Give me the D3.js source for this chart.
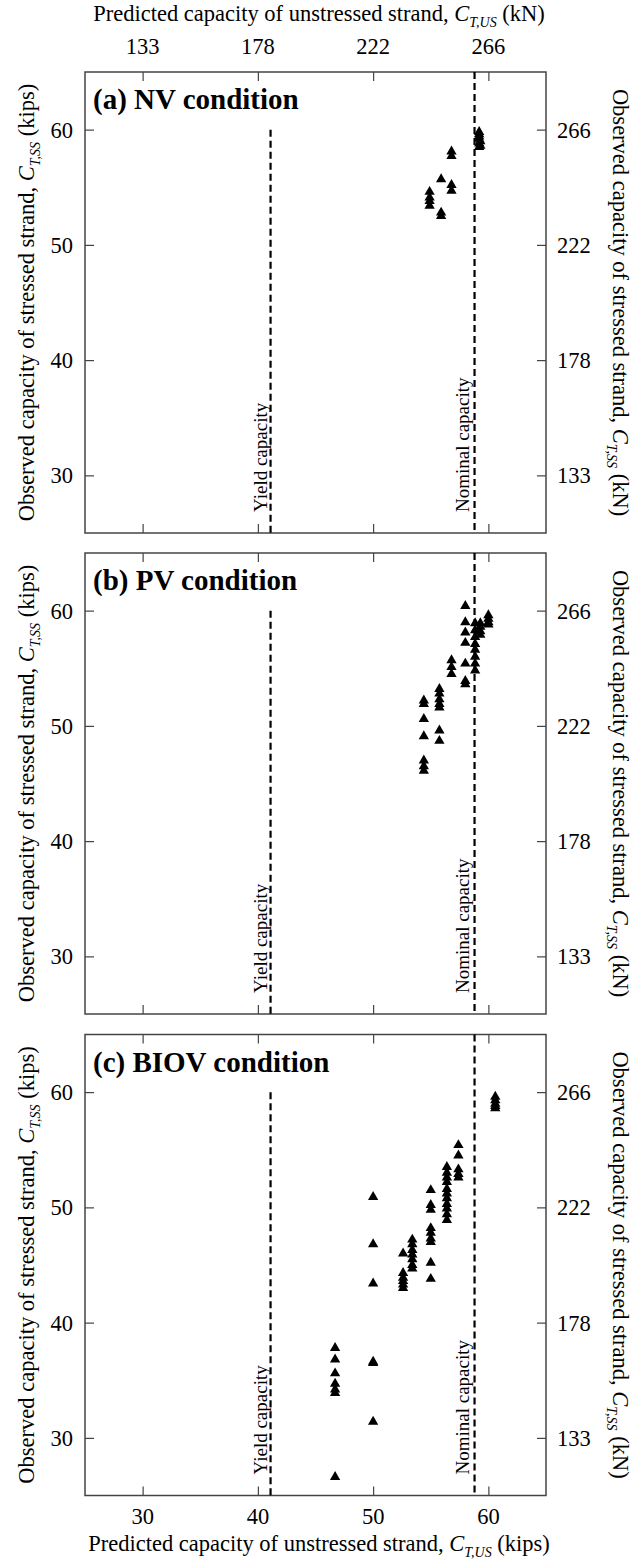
<!DOCTYPE html>
<html>
<head>
<meta charset="utf-8">
<script src="https://cdn.jsdelivr.net/npm/d3@7"></script>
<style>
  body { margin: 0; background: #fff; }
  text { font-family: "Liberation Serif", "Times New Roman", serif; fill: #000; }
</style>
</head>
<body>
<div id="chart"></div>
<script>
// tick values (kips) and the kN labels shown at the same places
const kipTicks = [30, 40, 50, 60];
const kNLabels = ["133", "178", "222", "266"];
const yieldCap = 41.1;
const nominalCap = 58.8;
const panelNames = ["(a) NV condition", "(b) PV condition", "(c) BIOV condition"];

// (a) NV condition: predicted (x) and observed (y), kips
const nvX = [54.9, 54.9, 54.9, 54.9, 55.9, 55.9, 55.9, 56.8, 56.8, 56.8, 56.8,
             59.2, 59.2, 59.2, 59.2, 59.3, 59.2, 59.3, 59.2];
const nvY = [54.6, 54.1, 53.8, 53.4, 55.7, 52.8, 52.5, 58.1, 57.7, 55.2, 54.7,
             59.8, 59.6, 59.4, 59.2, 59.0, 58.8, 58.6, 58.5];

// (b) PV condition
const pvX = [54.4, 54.4, 54.4, 54.4, 54.4, 54.4, 54.4,
             55.75, 55.75, 55.75, 55.75, 55.75, 55.75, 55.75,
             56.8, 56.8, 56.8,
             58.0, 58.0, 58.0, 58.0, 58.0, 58.0, 58.0,
             58.85, 58.85, 58.85, 58.85, 58.85, 58.85, 58.85, 58.85,
             59.3, 59.3, 59.3, 59.3,
             60.0, 60.0, 60.0, 60.0];
const pvY = [52.2, 51.9, 50.6, 49.1, 47.0, 46.5, 46.1,
             53.2, 52.8, 52.3, 51.9, 51.6, 49.6, 48.7,
             55.7, 55.1, 54.5,
             60.4, 59.0, 58.1, 57.2, 55.4, 53.9, 53.6,
             58.9, 58.3, 57.7, 57.1, 56.6, 56.0, 55.4, 54.8,
             58.9, 58.6, 58.2, 57.9,
             59.6, 59.3, 59.0, 58.8];

// (c) BIOV condition
const biovX = [46.7, 46.7, 46.7, 46.7, 46.7, 46.7, 46.7,
               50.0, 50.0, 50.0, 50.0, 50.0, 50.0,
               52.6, 52.6, 52.6, 52.6, 52.6, 52.6,
               53.4, 53.4, 53.4, 53.4, 53.4, 53.4, 53.4,
               55.0, 55.0, 55.0, 55.0, 55.0, 55.0, 55.0, 55.0, 55.0,
               56.4, 56.4, 56.4, 56.4, 56.4, 56.4, 56.4, 56.4, 56.4, 56.4, 56.4,
               57.4, 57.4, 57.4, 57.4, 57.4,
               60.6, 60.6, 60.6, 60.6, 60.6];
const biovY = [37.8, 36.8, 35.6, 34.7, 34.2, 33.9, 26.6,
               50.9, 46.8, 43.4, 36.6, 36.5, 31.4,
               46.0, 44.3, 43.9, 43.6, 43.3, 43.0,
               47.2, 46.8, 46.3, 45.9, 45.5, 45.0, 44.7,
               51.5, 50.2, 49.8, 48.2, 47.8, 47.3, 47.0, 45.2, 43.8,
               53.5, 53.0, 52.6, 52.2, 51.6, 51.2, 50.8, 50.3, 49.9, 49.4, 48.9,
               55.4, 54.5, 53.3, 52.9, 52.6,
               59.6, 59.3, 59.0, 58.8, 58.6];

const panelData = [[nvX, nvY], [pvX, pvY], [biovX, biovY]];

const width = 636, height = 1568;
const left = 85, right = 546;
const panelTops = [72, 553, 1034.5];
const panelH = 461;
const fs = 22.5;

const svg = d3.select("#chart").append("svg")
  .attr("width", width)
  .attr("height", height);

const x = d3.scaleLinear().domain([25, 65]).range([left, right]);

// writes "C" with an italic subscript into a text element
function capLabel(sel, before, sub, after) {
  sel.append("tspan").text(before);
  sel.append("tspan").attr("font-style", "italic").text("C");
  sel.append("tspan").attr("font-style", "italic").attr("font-size", 14).attr("dy", 6).text(sub);
  sel.append("tspan").attr("dy", -6).text(" " + after);
}

panelData.forEach(([xs, ys], i) => {
  const top = panelTops[i];
  const y = d3.scaleLinear().domain([25, 65]).range([top + panelH, top]);
  const g = svg.append("g");

  // axes with inward ticks
  const axL = g.append("g").attr("transform", `translate(${left},0)`)
    .call(d3.axisRight(y).tickValues(kipTicks).tickSize(9).tickFormat(""));
  const axR = g.append("g").attr("transform", `translate(${right},0)`)
    .call(d3.axisLeft(y).tickValues(kipTicks).tickSize(9).tickFormat(""));
  const axT = g.append("g").attr("transform", `translate(0,${top})`)
    .call(d3.axisBottom(x).tickValues(kipTicks).tickSize(9).tickFormat(""));
  const axB = g.append("g").attr("transform", `translate(0,${top + panelH})`)
    .call(d3.axisTop(x).tickValues(kipTicks).tickSize(9).tickFormat(""));
  [axL, axR, axT, axB].forEach(a => {
    a.select(".domain").remove();
    a.selectAll("line").attr("stroke", "#444").attr("stroke-width", 1.2);
  });

  g.append("rect")
    .attr("x", left).attr("y", top)
    .attr("width", right - left).attr("height", panelH)
    .attr("fill", "none").attr("stroke", "#444").attr("stroke-width", 1.5);

  // tick labels
  g.selectAll(".kl").data(kipTicks).join("text")
    .attr("x", left - 12).attr("y", d => y(d) + 8)
    .attr("text-anchor", "end").attr("font-size", fs)
    .text(d => d);
  g.selectAll(".kn").data(kipTicks).join("text")
    .attr("x", right + 11).attr("y", d => y(d) + 8)
    .attr("font-size", fs)
    .text((d, j) => kNLabels[j]);

  // capacity lines
  g.append("line")
    .attr("x1", x(yieldCap)).attr("x2", x(yieldCap))
    .attr("y1", y(60)).attr("y2", y(25))
    .attr("stroke", "#000").attr("stroke-width", 2.2).attr("stroke-dasharray", "7,4");
  g.append("line")
    .attr("x1", x(nominalCap)).attr("x2", x(nominalCap))
    .attr("y1", y(65)).attr("y2", y(25))
    .attr("stroke", "#000").attr("stroke-width", 2.2).attr("stroke-dasharray", "7,4");

  g.append("text")
    .attr("transform", `translate(${x(yieldCap) - 4},${y(25) - 21}) rotate(-90)`)
    .attr("font-size", 19).text("Yield capacity");
  g.append("text")
    .attr("transform", `translate(${x(nominalCap) - 6},${y(25) - 21}) rotate(-90)`)
    .attr("font-size", 19).text("Nominal capacity");

  // points
  g.selectAll("path.pt").data(d3.range(xs.length)).join("path")
    .attr("class", "pt")
    .attr("transform", j => `translate(${x(xs[j])},${y(ys[j])})`)
    .attr("d", d3.symbol(d3.symbolTriangle, 46))
    .attr("fill", "#000");

  g.append("text")
    .attr("x", left + 8).attr("y", top + 37)
    .attr("font-size", 29).attr("font-weight", "bold")
    .text(panelNames[i]);

  // side titles
  const mid = top + panelH / 2;
  const tl = g.append("text")
    .attr("transform", `translate(34,${mid}) rotate(-90)`)
    .attr("text-anchor", "middle").attr("font-size", fs);
  capLabel(tl, "Observed capacity of stressed strand, ", "T,SS", "(kips)");
  const tr = g.append("text")
    .attr("transform", `translate(613,${mid}) rotate(90)`)
    .attr("text-anchor", "middle").attr("font-size", fs);
  capLabel(tr, "Observed capacity of stressed strand, ", "T,SS", "(kN)");
});

// top kN axis labels (panel a) and bottom kips labels (panel c)
svg.selectAll(".tn").data(kipTicks).join("text")
  .attr("x", d => x(d)).attr("y", 54)
  .attr("text-anchor", "middle").attr("font-size", fs)
  .text((d, j) => kNLabels[j]);
const bottom = panelTops[2] + panelH;
svg.selectAll(".bk").data(kipTicks).join("text")
  .attr("x", d => x(d)).attr("y", bottom + 28)
  .attr("text-anchor", "middle").attr("font-size", fs)
  .text(d => d);

const tt = svg.append("text")
  .attr("x", 319).attr("y", 21)
  .attr("text-anchor", "middle").attr("font-size", fs);
capLabel(tt, "Predicted capacity of unstressed strand, ", "T,US", "(kN)");
const bt = svg.append("text")
  .attr("x", 319).attr("y", bottom + 55)
  .attr("text-anchor", "middle").attr("font-size", fs);
capLabel(bt, "Predicted capacity of unstressed strand, ", "T,US", "(kips)");
</script>
</body>
</html>
